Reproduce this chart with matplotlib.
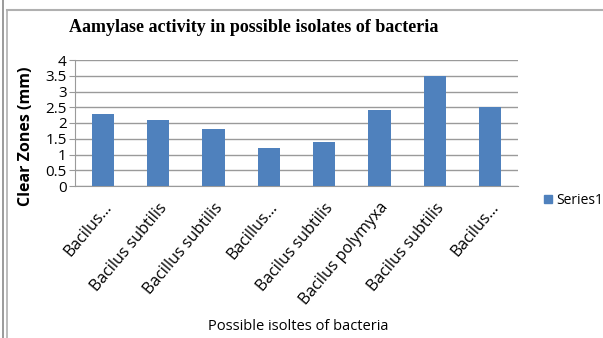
import matplotlib
matplotlib.use("Agg")
import matplotlib.pyplot as plt
from matplotlib.lines import Line2D
from matplotlib.font_manager import FontProperties

# isolates and their clear zone diameters
isolates = ["Bacilus...", "Bacilus subtilis", "Bacillus subtilis", "Bacillus...",
            "Bacilus subtilis", "Bacilus polymyxa", "Bacilus subtilis", "Bacilus..."]
clear_zones = [2.3, 2.1, 1.8, 1.2, 1.4, 2.4, 3.5, 2.5]
y_ticks = [0, 0.5, 1, 1.5, 2, 2.5, 3, 3.5, 4]
y_tick_labels = ["0", "0.5", "1", "1.5", "2", "2.5", "3", "3.5", "4"]

bar_color = "#4F81BD"
grid_color = "#9A9A9A"

sans = ["Open Sans", "DejaVu Sans"]

fig = plt.figure(figsize=(6.03, 3.38), dpi=100)
ax = fig.add_axes([75 / 603, 1 - 186 / 338, 443 / 603, 126 / 338])

x = list(range(len(isolates)))
ax.bar(x, clear_zones, width=0.4, color=bar_color, zorder=3)

ax.set_xlim(-0.5, len(isolates) - 0.5)
ax.set_ylim(0, 4)
ax.set_yticks(y_ticks)
ax.set_yticklabels(y_tick_labels, family=sans, fontsize=11)
ax.set_xticks(x)
ax.set_xticklabels(isolates, rotation=50, ha="right", rotation_mode="anchor",
                   family=sans, fontsize=11.5)
ax.tick_params(axis="x", length=0, pad=10)
ax.tick_params(axis="y", length=4, width=0.8, color=grid_color, pad=2)

ax.yaxis.grid(True, color=grid_color, linewidth=1.0, zorder=0)
for side in ["top", "right"]:
    ax.spines[side].set_visible(False)
ax.spines["left"].set_color(grid_color)
ax.spines["bottom"].set_color(grid_color)

fig.text(254 / 603, 1 - 28 / 338, "Aamylase activity in possible isolates of bacteria",
         family="Liberation Serif", weight="bold", fontsize=13,
         ha="center", va="center")
fig.text(26 / 603, 1 - 136 / 338, "Clear Zones (mm)", family=sans,
         weight="bold", fontsize=11.5, rotation=90, ha="center", va="center")
fig.text(298 / 603, 1 - 326 / 338, "Possible isoltes of bacteria", family=sans,
         fontsize=10.5, ha="center", va="center")

# legend entry on the right
handle = Line2D([], [], marker="s", linestyle="none", markersize=6,
                markerfacecolor=bar_color, markeredgecolor=bar_color)
fig.legend([handle], ["Series1"], loc="center left",
           bbox_to_anchor=(537 / 603, 1 - 200 / 338), frameon=False,
           prop=FontProperties(family=sans, size=10),
           handlelength=0.6, handletextpad=0.3, borderpad=0)

# chart frame lines
fig.add_artist(Line2D([3 / 603, 3 / 603], [0, 1], color="#8A8A8A", linewidth=1.2))
fig.add_artist(Line2D([7 / 603, 7 / 603], [0, 1 - 10 / 338], color="#B0B0B0", linewidth=1.2))
fig.add_artist(Line2D([7 / 603, 1], [1 - 10 / 338, 1 - 10 / 338], color="#B0B0B0", linewidth=1.5))

fig.savefig("out.png", dpi=100)
